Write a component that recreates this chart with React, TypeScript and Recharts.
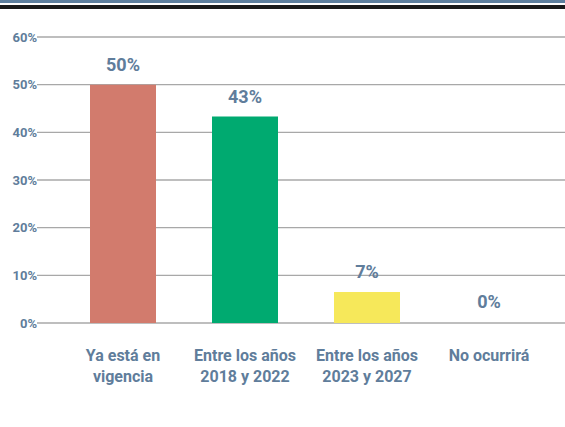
import React from 'react';
import { BarChart, Bar, XAxis, YAxis, CartesianGrid, LabelList, Cell } from 'recharts';

const categories = ['Ya está en\nvigencia', 'Entre los años\n2018 y 2022', 'Entre los años\n2023 y 2027', 'No ocurrirá'];
const values = [50, 43.3, 6.5, 0];
const colors = ['#d27b6d', '#00aa70', '#f6e85a', 'transparent'];
const yTicks = [0, 10, 20, 30, 40, 50, 60];

const data = categories.map((name, i) => ({ name, value: values[i] }));

const TEXT = '#607d9b';
const FONT = 'Roboto, sans-serif';

function CategoryTick(props: any) {
    const { x, y, payload } = props;
    const lines = String(payload.value).split('\n');
    return (
        <text x={x} y={y} textAnchor="middle" fill={TEXT} fontFamily={FONT} fontWeight={700} fontSize={16}>
            {lines.map((line, i) => (
                <tspan key={i} x={x} dy={i === 0 ? 30 : 20.5}>
                    {line}
                </tspan>
            ))}
        </text>
    );
}

export default function App() {
    return (
        <div style={{ position: 'absolute', left: 0, top: 0, width: 565, height: 427, background: '#fff' }}>
            <div style={{ position: 'absolute', left: 0, top: 0, width: 565, height: 3, background: '#5e7f9e' }} />
            <div style={{ position: 'absolute', left: 0, top: 5, width: 565, height: 4, background: '#1a1a1a' }} />
            <BarChart
                width={565}
                height={427}
                data={data}
                margin={{ top: 37, right: 0, left: 0, bottom: 0 }}
            >
                <CartesianGrid vertical={false} stroke="#a8a8a8" strokeWidth={1.3} />
                <XAxis
                    dataKey="name"
                    axisLine={false}
                    tickLine={false}
                    height={104}
                    padding={{ left: 25, right: 15 }}
                    interval={0}
                    tick={<CategoryTick />}
                />
                <YAxis
                    width={37}
                    domain={[0, 60]}
                    ticks={yTicks}
                    axisLine={false}
                    tickLine={false}
                    tickSize={0}
                    tickMargin={0}
                    tickFormatter={(v: number) => `${v}%`}
                    tick={{ fill: TEXT, fontSize: 13, fontWeight: 700, fontFamily: FONT }}
                />
                <Bar dataKey="value" barSize={66} minPointSize={1} isAnimationActive={false}>
                    {data.map((_, i) => (
                        <Cell key={i} fill={colors[i]} />
                    ))}
                    <LabelList
                        dataKey="value"
                        position="top"
                        offset={14}
                        formatter={(v: any) => `${Math.round(Number(v))}%`}
                        fill={TEXT}
                        fontSize={18}
                        fontWeight={700}
                        fontFamily={FONT}
                    />
                </Bar>
            </BarChart>
        </div>
    );
}
